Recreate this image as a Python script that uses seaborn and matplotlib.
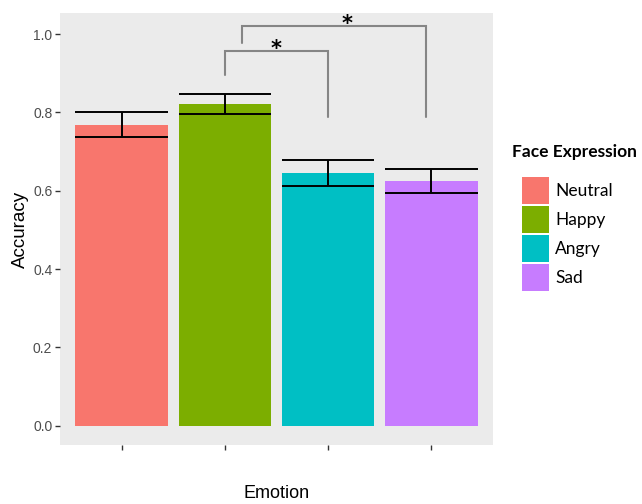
import matplotlib
matplotlib.use("Agg")
import matplotlib.pyplot as plt
from matplotlib.patches import Rectangle
import seaborn as sns
import pandas as pd

# Mean accuracy per face expression with error-bar bounds
emotions = ["Neutral", "Happy", "Angry", "Sad"]
accuracy = [0.768, 0.821, 0.645, 0.625]
err_low = [0.737, 0.796, 0.612, 0.594]
err_high = [0.801, 0.847, 0.679, 0.656]
colors = ["#F8766D", "#7CAE00", "#00BFC4", "#C77CFF"]
y_ticks = [0.0, 0.2, 0.4, 0.6, 0.8, 1.0]

# Significance comparisons:
# (left x, right x, left foot, right foot, top, label x, label)
comparisons = [
    (1.0, 2.0, 0.895, 0.788, 0.957, 1.5, "*"),
    (1.165, 2.95, 0.977, 0.788, 1.021, 2.18, "*"),
]

df = pd.DataFrame({"emotion": emotions, "accuracy": accuracy})

sns.set_theme(style="white")
plt.rcParams["font.family"] = ["Liberation Sans", "DejaVu Sans"]

W, H = 642, 504
fig = plt.figure(figsize=(W / 100, H / 100), dpi=100)
ax = fig.add_axes([60 / W, 59 / H, 433 / W, 432 / H])
ax.set_facecolor("#EBEBEB")

sns.barplot(data=df, x="emotion", y="accuracy", hue="emotion", order=emotions,
            palette=dict(zip(emotions, colors)), width=0.9, saturation=1,
            errorbar=None, legend=False, linewidth=0, ax=ax)

# Error bars spanning the full bar width
bw = 0.45
for i, (lo, hi) in enumerate(zip(err_low, err_high)):
    ax.hlines([lo, hi], i - bw, i + bw, color="black", lw=1.4, zorder=4)
    ax.vlines(i, lo, hi, color="black", lw=1.4, zorder=4)

# Significance brackets; the asterisk glyph sits high in its box, so the
# text anchor is placed a little below the bracket line
for x1, x2, f1, f2, top, lx, lab in comparisons:
    ax.plot([x1, x1, x2, x2], [f1, top, top, f2], color="#858585", lw=1.5,
            solid_joinstyle="miter", zorder=3)
    ax.text(lx, top - 0.02, lab, ha="center", va="bottom",
            fontsize=15, fontweight="bold", color="black",
            family=["DejaVu Sans"])

ax.set_xlim(-0.6, 3.6)
ax.set_ylim(-0.049, 1.054)
ax.set_yticks(y_ticks)
ax.set_yticklabels([f"{t:.1f}" for t in y_ticks])
ax.set_xticks(range(len(emotions)))
ax.set_xticklabels([])
ax.tick_params(axis="both", which="both", length=3.5, width=1, color="#333333",
               left=True, bottom=True, labelsize=10, labelcolor="#4D4D4D", pad=2)
for s in ax.spines.values():
    s.set_visible(False)

ax.set_xlabel("Emotion", fontsize=13, color="black")
ax.xaxis.set_label_coords(0.5, -(494 - 445) / 432)
ax.xaxis.label.set_verticalalignment("center")
ax.set_ylabel("Accuracy", fontsize=13.5, color="black")
ax.yaxis.set_label_coords((20 - 60) / 433, (445 - 229) / 432)
ax.yaxis.label.set_verticalalignment("center")

# Legend drawn as figure-level boxes and labels
lg_font = ["Lato", "DejaVu Sans"]
fig.text(512 / W, 1 - 152 / H, "Face Expression", ha="left", va="center",
         fontsize=12.5, fontweight="bold", family=lg_font, color="black")
for k, (name, col) in enumerate(zip(emotions, colors)):
    top_px = 176.5 + k * 29.2
    fig.patches.append(Rectangle((522 / W, 1 - (top_px + 27) / H), 27 / W, 27 / H,
                                 transform=fig.transFigure, facecolor=col,
                                 edgecolor="none", figure=fig))
    fig.text(555 / W, 1 - (top_px + 14) / H, name, ha="left", va="center",
             fontsize=12.5, family=lg_font, color="black")

fig.savefig("out.png", dpi=100, facecolor="white")
